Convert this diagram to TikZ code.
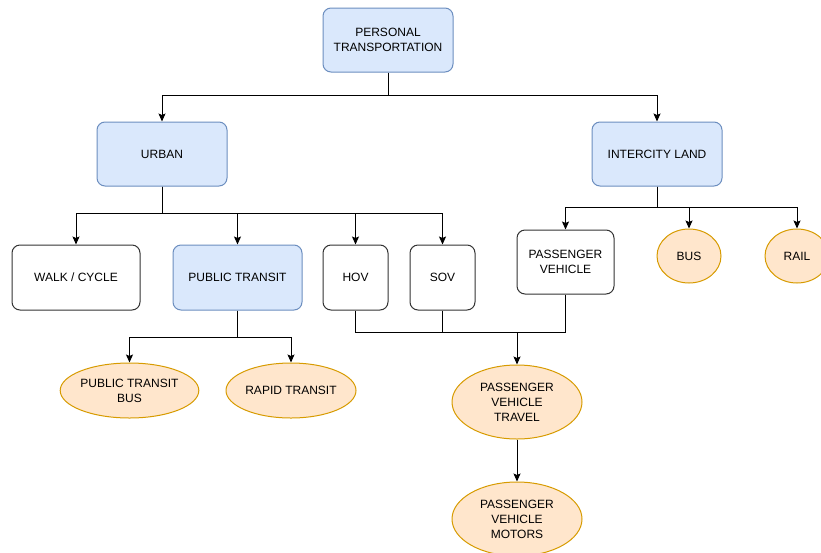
\documentclass[tikz,border=0pt]{standalone}
\usepackage{fontspec}
\setmainfont{Liberation Sans}
\usetikzlibrary{positioning,shapes,arrows.meta}
\definecolor{blueback}{HTML}{DAE8FC}
\definecolor{blueline}{HTML}{6C8EBF}
\definecolor{orangeback}{HTML}{FFE6CC}
\definecolor{orangeline}{HTML}{D79B00}

\begin{document}
\begin{tikzpicture}[x=1pt,y=-1pt,line width=1pt,
                    >={Stealth[length=8pt,width=7pt,inset=1.5pt]},
                    every node/.style={align=center,inner sep=0pt,font=\fontsize{12}{15}\selectfont},
                    blue node/.style={rectangle,rounded corners=8pt,draw=blueline,fill=blueback,
                                      minimum width=130pt,minimum height=64pt},
                    white node/.style={rectangle,rounded corners=8pt,draw=black!80,fill=white,
                                       minimum height=65pt},
                    orange node/.style={ellipse,draw=orangeline,fill=orangeback,
                                        minimum width=130pt,minimum height=55pt}
                   ]
  \useasboundingbox (0,0) rectangle (821,552);
  % top levels
  \node[blue node] (personal) at (388,40) {PERSONAL\\TRANSPORTATION};
  \node[blue node] (urban) at (162,154) {URBAN};
  \node[blue node] (intercity) at (657,154) {INTERCITY LAND};
  % urban modes
  \node[white node,minimum width=128pt] (walk) at (76,277.5) {WALK / CYCLE};
  \node[blue node,minimum width=129pt,minimum height=65pt] (transit) at (237.5,277.5) {PUBLIC TRANSIT};
  \node[white node,minimum width=65pt] (hov) at (355.5,277.5) {HOV};
  \node[white node,minimum width=65pt] (sov) at (442.5,277.5) {SOV};
  % intercity modes
  \node[white node,minimum width=97pt,minimum height=64pt] (vehicle) at (565.5,262) {PASSENGER\\VEHICLE};
  \node[orange node,minimum width=64pt,minimum height=54pt] (bus) at (689,256) {BUS};
  \node[orange node,minimum width=64pt,minimum height=54pt] (rail) at (797,256) {RAIL};
  % transit kinds
  \node[orange node,minimum width=129pt] (transitbus) at (129.5,390.5) {PUBLIC TRANSIT\\BUS};
  \node[orange node] (rapid) at (291,390.5) {RAPID TRANSIT};
  \node[orange node,minimum height=74pt] (travel) at (517,402) {PASSENGER\\VEHICLE\\TRAVEL};
  \node[orange node,minimum height=74pt] (motors) at (517,519) {PASSENGER\\VEHICLE\\MOTORS};
  \coordinate (merge) at (517,332);

  \draw[->] (personal.south) -- ++(0,23) -| (urban.north);
  \draw[->] (personal.south) -- ++(0,23) -| (intercity.north);
  \draw[->] (urban.south) -- ++(0,27) -| (walk.north);
  \draw[->] (urban.south) -- ++(0,27) -| (transit.north);
  \draw[->] (urban.south) -- ++(0,27) -| (hov.north);
  \draw[->] (urban.south) -- ++(0,27) -| (sov.north);
  \draw[->] (intercity.south) -- ++(0,21) -| (vehicle.north);
  \draw[->] (intercity.south) -- ++(0,21) -| (bus.north);
  \draw[->] (intercity.south) -- ++(0,21) -| (rail.north);
  \draw[->] (transit.south) -- ++(0,27) -| (transitbus.north);
  \draw[->] (transit.south) -- ++(0,27) -| (rapid.north);
  \draw (hov.south) |- (merge);
  \draw (sov.south) -- (sov.south |- merge);
  \draw (vehicle.south) |- (merge);
  \draw[->] (merge) -- (travel.north);
  \draw[->] (travel.south) -- (motors.north);
\end{tikzpicture}
\end{document}
